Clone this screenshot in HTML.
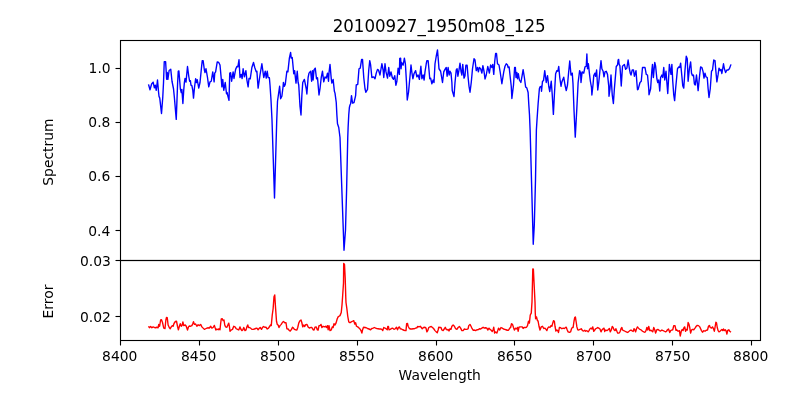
<!DOCTYPE html>
<html><head><meta charset="utf-8"><title>20100927_1950m08_125</title>
<style>
html,body{margin:0;padding:0;background:#fff;}
body{width:800px;height:400px;overflow:hidden;}
svg{display:block;will-change:transform;}
text{font-family:"DejaVu Sans","Liberation Sans",sans-serif;fill:#000;}
.t{font-size:13.89px;}
.ti{font-size:16.67px;}
</style></head><body>
<svg width="800" height="400" viewBox="0 0 800 400">
<rect x="0" y="0" width="800" height="400" fill="#ffffff"/>

<clipPath id="c1"><rect x="120" y="40" width="641" height="221"/></clipPath>
<clipPath id="c2"><rect x="120" y="260" width="641" height="81"/></clipPath>
<polyline clip-path="url(#c1)" fill="none" stroke="#0000ff" stroke-width="1.39" stroke-linejoin="round" stroke-linecap="butt" points="148.50,84.38 150.00,89.75 151.62,84.00 153.12,82.12 154.38,87.75 155.25,85.25 156.25,90.25 157.50,80.00 158.50,91.50 159.00,96.25 159.75,98.12 161.50,113.50 162.75,97.50 163.50,83.00 164.25,61.75 165.62,61.75 166.62,79.25 167.25,72.50 167.88,79.38 169.12,70.50 170.75,69.25 172.00,81.25 173.50,88.75 174.38,97.50 176.25,119.38 177.62,83.00 178.25,71.38 178.88,70.88 179.88,83.00 180.38,89.00 181.25,92.50 181.88,89.38 182.88,103.50 183.75,90.00 184.38,82.50 185.00,78.50 186.00,82.12 187.50,66.50 188.75,76.25 189.62,81.25 190.38,80.62 191.00,85.25 191.88,85.62 192.75,90.00 193.50,98.12 194.50,87.50 195.62,78.75 196.50,82.50 197.25,79.75 198.75,88.12 200.00,82.50 201.25,70.00 202.25,60.62 203.12,60.62 204.38,70.00 205.00,72.50 206.00,68.75 207.50,77.50 208.75,86.88 210.00,81.88 211.25,81.25 212.75,71.88 214.12,81.88 214.75,73.12 215.62,71.88 217.25,61.88 218.75,62.50 220.00,65.00 221.25,78.75 221.88,86.88 222.75,79.38 223.75,90.25 225.25,82.50 226.50,93.75 227.12,92.50 227.75,95.62 229.00,100.25 229.75,73.12 230.62,72.75 231.62,81.25 233.12,71.88 234.00,78.50 235.62,69.38 236.88,66.50 237.88,66.88 239.00,59.75 240.00,77.50 241.25,74.38 242.12,78.50 243.12,68.75 244.38,76.88 245.88,70.62 246.88,80.00 248.12,86.88 249.00,78.50 250.25,78.75 251.88,67.50 253.50,62.50 254.75,67.50 256.25,71.88 256.88,71.25 258.12,88.12 260.00,75.00 261.88,63.75 263.75,77.50 265.25,71.25 266.25,78.12 267.25,71.25 268.12,77.50 269.38,77.75 270.00,85.00 271.00,100.00 272.00,120.00 274.50,198.00 276.75,120.00 277.50,101.25 278.75,92.50 279.62,86.25 280.62,98.75 281.88,96.25 283.12,86.25 283.38,82.50 284.38,86.25 285.25,84.38 286.88,71.25 287.88,71.88 289.38,58.12 290.62,52.50 291.25,58.12 292.25,57.50 293.75,73.75 294.62,70.62 296.00,83.12 297.25,71.25 298.12,82.50 298.75,85.00 300.00,106.25 301.00,115.00 301.88,95.00 302.75,82.50 304.38,79.38 306.25,88.75 306.88,94.00 308.12,77.50 309.00,73.12 310.62,71.25 311.62,81.25 312.50,70.62 313.12,80.00 314.00,70.00 315.25,68.12 316.50,78.75 317.50,77.75 319.00,95.00 320.00,88.75 321.25,77.50 322.50,71.25 323.75,81.88 325.00,76.88 326.25,78.12 327.50,73.12 328.50,81.25 329.00,72.75 330.00,64.38 331.25,78.75 331.88,83.12 333.12,79.38 334.38,91.25 335.00,93.12 336.25,102.50 336.88,115.00 337.50,123.75 338.75,127.50 340.00,137.50 344.00,250.25 345.50,230.00 346.60,190.00 347.75,137.50 348.12,127.50 348.75,115.00 349.38,107.50 350.00,105.00 350.62,103.75 351.50,95.62 352.50,103.12 354.00,102.50 355.62,95.62 356.25,85.00 357.75,84.38 359.00,68.75 360.25,68.12 361.62,59.38 362.50,59.38 363.75,77.50 365.00,88.75 365.88,92.25 367.50,89.38 368.75,70.00 369.75,60.62 370.62,65.00 371.88,77.50 373.75,76.88 375.00,78.75 376.25,73.12 377.50,69.38 378.50,70.00 380.00,75.00 381.88,63.75 383.12,70.00 383.75,77.50 385.00,63.75 386.00,71.88 387.50,78.12 388.75,67.50 389.75,76.25 391.00,71.88 392.25,77.50 393.50,79.38 394.75,75.62 395.88,85.25 396.88,81.25 398.12,68.12 399.38,74.38 399.75,58.38 400.62,58.12 401.06,68.75 401.69,62.50 403.12,65.25 404.38,58.12 405.38,63.75 406.50,82.50 407.25,100.00 408.50,92.50 410.00,76.25 411.00,65.00 411.88,72.50 412.88,78.75 414.00,73.75 415.62,70.62 416.88,76.88 418.12,75.00 419.38,79.38 420.88,66.25 421.88,78.75 423.12,75.00 424.12,80.00 425.00,71.88 426.25,63.75 426.88,60.62 428.12,60.62 429.00,70.00 429.75,78.75 430.62,78.12 431.88,83.75 433.12,80.00 434.00,82.50 435.00,63.75 436.25,56.25 437.50,50.00 438.12,57.50 439.00,68.75 440.62,71.25 442.50,82.50 443.75,71.88 445.00,69.38 446.25,67.50 447.12,76.25 448.12,67.50 449.12,75.00 450.00,71.25 451.00,73.12 451.88,82.50 452.25,90.62 454.00,96.50 455.00,82.50 456.25,70.00 457.12,68.75 457.88,76.25 459.00,70.00 460.00,63.12 461.00,71.25 461.88,75.00 462.75,64.38 464.00,78.12 465.00,75.62 465.88,65.25 467.12,65.25 468.00,76.25 469.00,86.25 470.00,92.25 471.25,82.50 472.50,68.75 474.00,58.75 475.00,60.00 476.25,70.62 477.50,67.50 478.38,71.88 479.38,67.50 480.62,68.75 481.88,73.12 482.88,65.62 484.00,71.25 485.00,79.00 486.25,75.00 487.75,66.50 489.38,73.12 490.62,65.00 491.88,67.50 492.75,64.38 493.75,74.38 494.75,61.25 495.62,53.50 496.50,53.50 497.50,63.75 499.00,65.00 500.25,72.50 501.88,83.75 503.75,71.88 505.00,66.25 506.25,63.75 507.50,65.00 508.12,67.50 509.12,66.88 510.00,75.00 511.25,86.25 511.88,98.50 513.50,85.00 514.62,67.50 515.38,67.50 516.00,77.50 516.88,72.50 517.50,78.75 518.38,73.75 519.38,80.00 520.88,82.50 522.12,75.62 523.12,69.62 524.38,77.50 525.62,86.88 526.88,88.12 528.12,92.50 528.75,103.75 529.50,115.00 530.12,130.00 533.25,244.25 534.30,225.00 535.50,180.00 536.38,130.00 537.00,120.00 538.12,103.75 539.38,88.75 540.00,86.88 541.25,86.25 541.50,91.25 542.50,81.25 543.50,80.62 544.75,70.62 546.25,82.50 547.50,75.62 548.75,86.25 549.75,91.50 551.25,81.25 552.25,95.00 553.38,114.38 554.38,95.00 555.62,73.75 556.88,70.62 557.88,71.25 558.75,66.50 559.75,77.50 561.00,86.25 561.88,81.88 563.75,77.25 565.00,85.00 566.25,90.62 567.50,85.00 568.50,73.75 569.75,61.00 571.00,75.00 572.25,73.12 573.00,83.75 574.00,110.00 575.25,137.12 576.75,110.00 577.50,95.00 578.12,82.50 579.62,70.62 580.62,73.12 581.00,82.50 582.12,71.88 583.75,73.12 585.00,66.88 586.25,66.25 586.88,54.00 587.50,68.75 588.38,63.75 589.38,73.12 590.38,81.25 591.50,87.50 591.88,95.00 593.12,83.75 593.75,75.62 595.00,73.12 595.62,76.25 596.62,70.00 597.75,90.00 598.75,82.50 600.00,70.00 601.00,60.62 601.88,68.75 603.12,71.25 604.00,76.88 605.00,71.88 606.25,71.25 607.50,74.38 608.75,86.25 609.00,96.25 610.00,88.75 611.00,75.00 612.25,95.00 613.38,103.50 614.38,88.75 615.50,75.62 616.25,66.50 617.50,65.00 618.12,60.00 618.62,59.38 619.12,64.38 619.88,65.62 620.62,75.62 621.25,86.00 622.50,66.25 624.38,64.38 625.62,69.38 626.88,68.12 628.12,60.00 629.38,68.75 630.25,73.12 631.00,75.00 632.25,70.00 633.50,70.00 634.38,76.25 636.00,70.62 636.88,82.50 637.50,89.75 638.12,89.38 640.00,82.50 641.25,81.25 642.50,67.50 645.00,67.50 646.25,74.38 647.50,75.00 648.75,88.75 649.00,94.75 650.62,88.75 651.88,70.00 652.50,64.38 653.38,77.50 654.75,62.50 655.62,66.25 656.88,78.75 657.75,82.50 658.75,80.00 659.75,91.00 660.62,77.50 661.88,75.00 662.75,77.50 663.75,67.50 664.75,80.00 666.00,71.25 666.88,82.50 667.75,93.50 669.38,64.38 671.00,74.38 671.88,64.38 672.75,81.25 673.75,95.00 674.62,100.62 675.62,88.75 677.50,68.75 678.75,66.88 679.75,67.50 680.62,63.12 681.88,76.25 682.75,85.62 683.75,88.12 685.00,70.00 686.25,56.25 687.25,58.75 688.12,81.25 689.38,68.75 690.62,61.88 691.50,73.12 692.50,75.62 693.50,75.00 694.38,83.75 695.25,85.00 696.50,75.00 698.12,90.62 699.38,77.50 700.62,66.88 701.88,67.50 703.12,71.88 704.00,78.12 705.00,73.12 706.00,76.88 707.25,77.50 708.12,88.75 709.00,97.50 710.25,88.75 711.50,71.25 712.50,70.00 713.75,60.00 715.00,60.62 715.88,71.25 716.88,81.88 718.12,74.38 719.00,68.12 720.25,70.62 721.00,69.38 721.88,73.50 723.50,63.75 724.38,68.75 725.62,72.50 726.88,70.00 728.12,70.00 729.38,68.75 731.00,64.38"/>
<polyline clip-path="url(#c2)" fill="none" stroke="#ff0000" stroke-width="1.39" stroke-linejoin="round" stroke-linecap="butt" points="148.50,326.25 149.38,327.75 150.62,326.50 151.88,327.75 153.12,326.88 154.38,327.50 155.62,327.75 156.88,327.25 158.12,327.75 158.75,324.38 159.62,326.25 160.62,320.00 161.50,319.75 162.50,322.50 163.75,328.12 165.00,328.50 165.88,320.00 166.50,317.50 167.25,317.75 168.12,325.00 169.38,327.75 170.25,328.75 171.25,326.88 172.25,325.62 173.12,326.25 174.00,323.50 175.38,321.50 176.50,321.25 177.50,326.25 178.38,329.75 179.38,326.25 180.25,323.75 181.25,326.25 182.25,325.00 182.88,321.88 183.75,325.62 185.25,325.00 186.25,326.25 187.50,330.00 188.50,326.88 189.38,326.00 190.62,326.25 191.88,325.62 192.75,323.75 193.50,321.62 194.38,324.38 195.62,324.00 196.88,326.25 198.12,324.75 199.38,325.62 200.62,324.38 201.88,326.88 203.12,328.12 204.38,329.38 205.62,328.75 206.88,328.12 208.12,327.75 209.38,328.12 210.62,326.25 211.88,328.12 213.12,327.50 214.38,325.38 215.25,328.12 215.88,330.00 216.88,329.00 218.12,329.75 219.00,328.75 220.00,329.75 220.62,323.75 221.25,319.00 222.25,318.75 223.12,320.62 224.00,320.00 224.75,325.00 225.62,326.88 226.88,327.25 227.88,325.00 228.75,323.12 229.38,326.25 230.00,331.25 231.25,330.00 232.50,329.38 233.75,326.25 235.00,326.88 236.25,328.75 237.50,329.38 238.75,330.00 240.00,326.88 240.62,328.75 241.88,330.62 242.75,330.00 243.75,327.50 245.00,330.62 246.00,330.00 246.88,326.88 247.75,325.00 248.50,327.50 249.38,327.50 250.62,328.12 251.88,329.38 253.12,329.38 254.38,329.00 255.62,328.50 256.88,328.12 258.12,329.75 259.38,328.12 260.25,327.50 261.50,329.38 262.50,327.50 263.50,326.50 264.75,327.25 266.00,327.25 267.25,329.00 268.50,328.12 269.75,326.25 270.62,325.00 271.25,325.62 272.25,315.00 273.12,308.75 274.00,296.88 274.75,295.00 275.62,308.75 276.50,321.25 277.25,324.38 278.12,325.00 279.00,327.50 280.00,325.62 281.25,324.38 282.50,322.25 283.50,321.50 284.75,322.75 286.00,322.75 286.88,328.75 288.12,329.00 289.38,330.62 290.25,331.00 291.50,329.38 292.50,327.25 293.50,328.12 294.38,329.38 295.62,329.75 296.88,330.00 297.75,327.50 298.75,323.12 299.75,321.00 301.00,320.00 301.88,322.75 302.75,326.88 303.75,325.00 304.75,326.50 305.62,324.75 306.88,324.38 308.12,326.88 309.38,328.12 310.62,327.50 311.88,327.50 313.12,329.75 314.00,330.00 315.00,327.25 316.25,326.88 317.25,329.75 318.12,330.00 319.00,325.62 320.00,325.62 321.00,324.38 321.88,327.50 323.12,326.25 324.38,326.88 325.62,326.25 326.50,327.50 327.50,325.62 328.12,329.75 329.00,325.62 330.00,330.62 331.25,330.00 332.25,326.88 333.12,327.50 334.00,323.75 335.00,325.00 336.00,323.12 337.25,318.75 338.12,316.88 339.00,316.25 340.00,315.62 341.25,312.50 342.00,305.00 342.50,298.00 343.50,283.00 343.70,263.50 344.50,264.50 345.20,278.00 345.80,298.00 346.00,302.50 346.88,308.75 347.75,316.25 348.75,321.88 350.00,322.75 351.25,321.88 352.50,321.25 353.75,320.62 354.75,324.00 355.62,322.75 356.50,326.25 357.75,326.88 358.75,327.75 360.00,329.00 361.00,330.62 361.88,333.12 362.50,330.00 363.50,327.25 365.00,327.50 366.25,327.75 367.50,328.50 369.00,329.00 370.62,329.75 371.88,328.50 373.12,328.12 374.38,327.50 375.62,328.12 376.88,328.50 378.12,328.75 379.38,329.00 380.62,329.00 381.88,329.38 382.75,330.62 383.75,327.50 385.00,328.12 386.00,328.75 387.25,329.75 387.75,326.50 388.50,326.50 389.00,329.75 390.25,329.38 391.50,328.50 392.75,328.12 394.00,329.38 395.25,328.75 396.50,327.25 397.50,329.75 398.50,327.50 399.38,326.88 400.25,328.75 401.50,329.00 402.75,329.75 404.00,330.25 405.25,330.62 406.00,330.62 406.62,323.75 407.50,323.50 408.12,326.25 409.38,328.50 410.62,329.00 411.88,329.00 413.12,328.75 414.38,328.75 415.62,328.12 416.88,327.75 417.75,326.50 419.00,326.88 420.25,326.25 421.25,327.50 422.25,328.75 423.50,327.50 425.00,327.25 426.00,328.12 426.88,331.88 427.75,330.62 428.75,327.50 430.00,326.88 431.25,326.50 432.50,327.50 433.75,328.75 435.00,330.62 436.25,331.88 437.25,332.75 438.12,330.00 438.75,327.25 440.00,327.50 441.00,327.50 441.88,330.00 443.12,330.62 444.38,328.75 445.25,327.25 446.25,329.38 447.25,330.00 448.12,329.38 449.00,331.00 450.00,328.75 451.00,329.38 451.88,326.25 453.12,325.00 454.38,326.25 455.62,328.75 456.88,329.38 458.12,327.50 459.38,326.50 460.62,328.12 461.88,330.62 463.12,330.62 464.38,329.00 465.62,329.38 466.88,329.38 468.12,328.75 468.75,325.62 470.00,324.38 471.00,326.25 471.88,328.12 473.12,330.25 474.38,330.00 475.62,330.62 476.88,329.75 478.12,329.75 479.38,328.75 480.62,329.00 481.88,328.12 483.12,327.25 484.38,328.12 485.62,327.75 486.88,328.12 487.75,330.00 489.00,328.12 490.00,329.38 491.25,330.25 492.25,331.50 493.12,329.75 493.75,327.25 494.62,333.12 495.62,331.88 496.88,333.12 497.75,330.62 498.50,328.12 499.75,330.00 501.00,327.50 502.25,328.12 503.50,329.00 504.75,329.38 506.00,329.75 507.25,330.25 508.50,330.25 509.75,328.12 510.62,327.50 511.50,323.75 512.50,324.38 513.50,327.50 514.38,330.00 515.62,328.12 516.88,329.00 517.50,327.50 518.12,331.25 519.00,327.25 520.00,326.88 521.25,326.88 522.25,326.88 523.12,328.50 524.00,327.50 525.25,327.50 526.50,327.25 527.50,325.62 528.50,321.25 529.38,323.12 530.25,315.00 531.25,313.12 532.00,302.00 532.80,269.00 533.38,269.25 535.00,302.00 535.25,312.50 535.62,318.75 536.50,316.88 537.25,320.00 538.12,321.25 539.00,326.25 540.00,330.00 541.25,326.88 542.50,326.25 543.75,328.50 545.00,328.12 546.00,329.38 546.88,330.62 547.75,328.12 548.75,326.88 550.00,327.50 551.00,325.62 551.88,326.25 552.75,323.12 553.50,320.62 554.38,321.25 555.00,326.25 555.88,331.00 556.88,330.00 557.75,330.62 558.50,332.50 559.38,327.50 560.62,327.75 561.88,328.75 563.12,328.12 564.38,328.50 565.62,327.50 566.25,327.25 567.25,330.00 568.12,331.88 569.38,332.25 570.62,331.88 571.50,328.75 572.25,327.50 573.12,327.50 574.00,321.25 574.75,317.50 575.38,316.88 576.25,322.50 576.88,326.88 577.75,329.75 578.75,330.00 580.00,329.38 581.25,328.75 582.50,330.62 583.75,331.00 584.75,330.25 585.62,331.25 586.88,330.62 588.12,331.88 589.00,330.62 590.00,328.75 591.00,328.12 591.88,329.00 592.75,326.88 593.75,331.25 594.75,330.00 595.62,328.75 596.88,328.12 597.75,327.50 598.75,328.12 600.00,329.00 601.00,331.88 601.88,330.00 603.12,328.75 604.00,328.12 604.75,331.50 605.62,330.00 606.88,330.62 608.12,329.75 609.38,328.50 610.25,331.88 611.25,330.00 612.25,326.50 613.12,327.50 614.00,329.75 615.00,330.62 615.88,328.75 616.88,331.25 617.75,333.12 619.00,333.12 620.00,331.88 621.00,328.75 621.88,327.50 622.50,330.00 623.75,330.62 625.00,331.25 626.25,331.88 627.50,332.50 628.50,331.88 629.75,330.62 631.00,330.00 632.25,331.00 633.12,331.50 634.00,328.75 634.75,329.75 635.62,331.88 636.50,328.75 637.50,326.88 638.50,328.12 639.38,329.00 640.00,329.38 641.25,330.00 642.50,331.25 643.75,331.88 645.00,332.25 646.00,330.62 646.88,327.50 647.75,330.00 648.75,326.50 649.75,330.62 651.00,330.25 651.88,331.00 652.75,331.88 653.75,327.50 654.75,329.75 655.62,333.12 656.88,329.75 658.12,329.38 659.38,330.62 660.62,331.00 661.88,330.00 663.12,330.62 664.38,331.25 665.62,331.88 666.50,331.25 667.50,329.75 668.50,329.00 669.75,332.50 670.62,330.62 671.88,330.00 672.75,329.75 673.75,325.62 675.00,325.62 676.00,330.25 676.88,330.00 678.12,331.25 679.38,330.62 680.25,336.00 681.25,331.25 682.25,329.38 683.12,330.62 684.00,327.50 684.75,326.88 685.62,331.25 686.50,329.38 687.25,330.00 688.12,322.50 689.00,324.38 689.75,327.50 690.62,333.12 691.50,330.00 692.50,329.38 693.75,329.75 695.00,328.12 696.25,326.25 697.25,325.38 698.50,325.62 699.75,326.88 700.62,328.75 701.50,330.62 702.50,332.25 703.75,330.62 705.00,331.25 706.25,330.25 707.50,330.00 708.50,326.25 709.38,325.38 710.25,327.50 711.50,328.12 712.50,326.88 713.50,328.75 714.38,331.25 715.00,327.50 715.88,322.25 716.50,322.75 717.25,327.50 718.12,330.62 719.00,331.88 720.00,331.25 721.00,330.25 721.88,329.38 722.75,330.62 723.50,329.00 724.38,330.62 725.25,329.75 726.25,331.25 726.88,334.00 727.75,330.25 728.75,329.75 729.75,331.25 731.00,332.25"/>
<g stroke="#000" stroke-width="1.11" stroke-linecap="butt">
<line x1="120.5" y1="340.5" x2="120.5" y2="345.5"/>
<line x1="199.5" y1="340.5" x2="199.5" y2="345.5"/>
<line x1="278.5" y1="340.5" x2="278.5" y2="345.5"/>
<line x1="357.5" y1="340.5" x2="357.5" y2="345.5"/>
<line x1="436.5" y1="340.5" x2="436.5" y2="345.5"/>
<line x1="514.5" y1="340.5" x2="514.5" y2="345.5"/>
<line x1="593.5" y1="340.5" x2="593.5" y2="345.5"/>
<line x1="672.5" y1="340.5" x2="672.5" y2="345.5"/>
<line x1="751.5" y1="340.5" x2="751.5" y2="345.5"/>
<line x1="115.5" y1="68.5" x2="120.5" y2="68.5"/>
<line x1="115.5" y1="122.5" x2="120.5" y2="122.5"/>
<line x1="115.5" y1="176.5" x2="120.5" y2="176.5"/>
<line x1="115.5" y1="230.5" x2="120.5" y2="230.5"/>
<line x1="115.5" y1="260.5" x2="120.5" y2="260.5"/>
<line x1="115.5" y1="316.5" x2="120.5" y2="316.5"/>
</g>
<g fill="none" stroke="#000" stroke-width="1.11" stroke-linejoin="miter" stroke-linecap="square">
<rect x="120.5" y="40.5" width="640" height="220"/>
<rect x="120.5" y="260.5" width="640" height="80"/>
</g>
<text class="t" x="119.75" y="360.55" text-anchor="middle">8400</text>
<text class="t" x="198.68" y="360.55" text-anchor="middle">8450</text>
<text class="t" x="277.76" y="360.55" text-anchor="middle">8500</text>
<text class="t" x="356.70" y="360.55" text-anchor="middle">8550</text>
<text class="t" x="435.76" y="360.55" text-anchor="middle">8600</text>
<text class="t" x="514.69" y="360.55" text-anchor="middle">8650</text>
<text class="t" x="593.75" y="360.55" text-anchor="middle">8700</text>
<text class="t" x="672.69" y="360.55" text-anchor="middle">8750</text>
<text class="t" x="750.76" y="360.55" text-anchor="middle">8800</text>
<text class="t" x="110.66" y="72.85" text-anchor="end">1.0</text>
<text class="t" x="110.42" y="126.89" text-anchor="end">0.8</text>
<text class="t" x="110.23" y="180.92" text-anchor="end">0.6</text>
<text class="t" x="110.28" y="235.82" text-anchor="end">0.4</text>
<text class="t" x="110.86" y="265.86" text-anchor="end">0.03</text>
<text class="t" x="110.87" y="321.86" text-anchor="end">0.02</text>
<text class="ti" transform="translate(439.15,32) scale(1,1.05)" text-anchor="middle">20100927_1950m08_125</text>
<text class="t" x="439.78" y="379.5" text-anchor="middle">Wavelength</text>
<text class="t" transform="translate(52.5,152.1) rotate(-90)" text-anchor="middle">Spectrum</text>
<text class="t" transform="translate(52.5,301.5) rotate(-90)" text-anchor="middle">Error</text>
</svg></body></html>
